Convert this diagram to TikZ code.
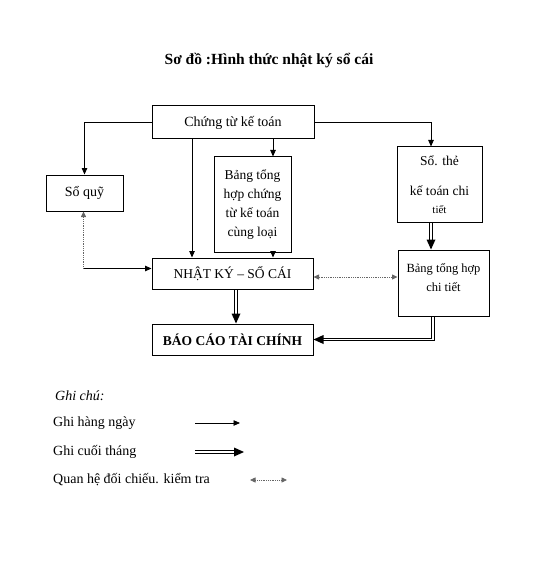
\documentclass[tikz,border=0pt]{standalone}
\usepackage{fontspec}
\setmainfont{Liberation Serif}
\usetikzlibrary{arrows.meta,calc}
\begin{document}
\begin{tikzpicture}[x=1pt,y=-1pt,
  box/.style={draw, line width=1pt, inner sep=0pt, align=center, font=\fontsize{14}{19}\selectfont},
  txt/.style={inner sep=0pt, align=center, font=\fontsize{14}{19}\selectfont},
  arr/.style={line width=0.8pt, -{Triangle[length=6.5pt,width=5.5pt]}},
  thintwo/.style={line width=0.7pt},
  dotl/.style={densely dotted, line width=0.8pt, draw=black!60},
  tipa/.style={-{Triangle[length=5.5pt,width=5pt]}},
  tipb/.style={{Triangle[length=5.5pt,width=5pt]}-{Triangle[length=5.5pt,width=5pt]}},
  leg/.style={anchor=west, inner sep=0pt, font=\fontsize{14}{16}\selectfont}
]
\useasboundingbox (0,0) rectangle (542,564);
\node[font=\bfseries\fontsize{15.5}{17}\selectfont] (title) at (269,61) {Sơ đồ :Hình thức nhật ký sổ cái};

\node[box, minimum width=162pt, minimum height=33pt] (ctkt) at (233,122.5) {Chứng từ kế toán};
\node[box, minimum width=77pt, minimum height=36pt] (soquy) at (84.5,193) {Sổ quỹ};
\node[box, minimum width=77pt, minimum height=95pt, font=\fontsize{13.5}{19}\selectfont] (bthct) at (252.5,204.5) {Bảng tổng\\ hợp chứng\\ từ kế toán\\ cùng loại};
\node[box, minimum width=85pt, minimum height=75pt, font=\fontsize{13.5}{19}\selectfont] (sothe) at (439.5,184.5) {Sổ. thẻ\\[11pt] kế toán chi\\[-1pt] {\fontsize{11}{13}\selectfont tiết}};
\node[box, minimum width=161pt, minimum height=31pt, font=\fontsize{13.5}{16}\selectfont] (nksc) at (232.5,273.5) {NHẬT KÝ – SỔ CÁI};
\node[box, minimum width=91pt, minimum height=66pt] (bthchitiet) at (443.5,283) {};
\node[txt, font=\fontsize{12.5}{19}\selectfont] (bthchitiet-t) at (443.5,277.5) {Bảng tổng hợp\\ chi tiết};
\node[box, minimum width=161pt, minimum height=31pt, font=\bfseries\fontsize{13.5}{16}\selectfont] (bctc) at (232.5,339.5) {BÁO CÁO TÀI CHÍNH};

% single connectors
\draw[arr] (ctkt.west) -| (soquy.north);
\coordinate (s1) at ($(sothe.north)+(-8.5,0)$);
\draw[arr] (ctkt.east) -| (s1);
\coordinate (a1) at ($(ctkt.south)+(-41,0)$);
\draw[arr] (a1) -- (a1 |- nksc.north);
\coordinate (a2) at ($(ctkt.south)+(40,0)$);
\draw[arr] (a2) -- (a2 |- bthct.north);
\coordinate (a3) at (a2 |- bthct.south);
\draw[arr] (a3) -- (a3 |- nksc.north);
\coordinate (q1) at ($(soquy.south)+(-1,57)$);
\draw[dotl, tipa] (q1) -- (soquy.south -| q1);
\draw[arr] (q1) -- (q1 -| nksc.west);
\coordinate (n1) at ($(nksc.east)+(0,3.5)$);
\draw[dotl, tipb] (n1) -- (n1 -| bthchitiet.west);

% double connectors: Sổ thẻ -> Bảng tổng hợp chi tiết
\coordinate (s2) at ($(sothe.south)+(-8.5,0)$);
\coordinate (s2e) at (s2 |- bthchitiet.north);
\draw[thintwo] ($(s2)+(-1.2,0)$) -- ($(s2e)+(-1.2,-8)$);
\draw[thintwo] ($(s2)+(1.2,0)$) -- ($(s2e)+(1.2,-8)$);
\fill (s2e) -- ++(-4.5,-10) -- ++(9,0) -- cycle;
% NHẬT KÝ -> BÁO CÁO
\coordinate (n2) at ($(nksc.south)+(3.5,0)$);
\coordinate (n2e) at (n2 |- bctc.north);
\draw[thintwo] ($(n2)+(-1.2,0)$) -- ($(n2e)+(-1.2,-8)$);
\draw[thintwo] ($(n2)+(1.2,0)$) -- ($(n2e)+(1.2,-8)$);
\fill (n2e) -- ++(-4.5,-10) -- ++(9,0) -- cycle;
% Bảng tổng hợp chi tiết -> BÁO CÁO
\coordinate (d1) at ($(bthchitiet.south)+(-10.5,0)$);
\draw[thintwo] ($(d1)+(1.2,0)$) |- ($(bctc.east)+(8,1.2)$);
\draw[thintwo] ($(d1)+(-1.2,0)$) |- ($(bctc.east)+(8,-1.2)$);
\fill (bctc.east) -- ++(10,-4.5) -- ++(0,9) -- cycle;

% legend
\node[leg, font=\itshape\fontsize{14}{16}\selectfont] (gc) at (55,396) {Ghi chú:};
\node[leg] (l1) at (53,423) {Ghi hàng ngày};
\node[leg] (l2) at (53,452) {Ghi cuối tháng};
\node[leg] (l3) at (53,480) {Quan hệ đối chiếu. kiểm tra};
\coordinate (l1a) at (195,423); \coordinate (l1b) at (240,423);
\coordinate (l2a) at (195,452); \coordinate (l2b) at (244,452);
\coordinate (l3a) at (250,480); \coordinate (l3b) at (287,480);
\draw[arr] (l1a) -- (l1b);
\draw[thintwo] ($(l2a)+(0,-1.2)$) -- ($(l2b)+(-8,-1.2)$);
\draw[thintwo] ($(l2a)+(0,1.2)$) -- ($(l2b)+(-8,1.2)$);
\fill (l2b) -- ++(-10,-4.5) -- ++(0,9) -- cycle;
\draw[dotl, tipb] (l3a) -- (l3b);
\end{tikzpicture}
\end{document}
